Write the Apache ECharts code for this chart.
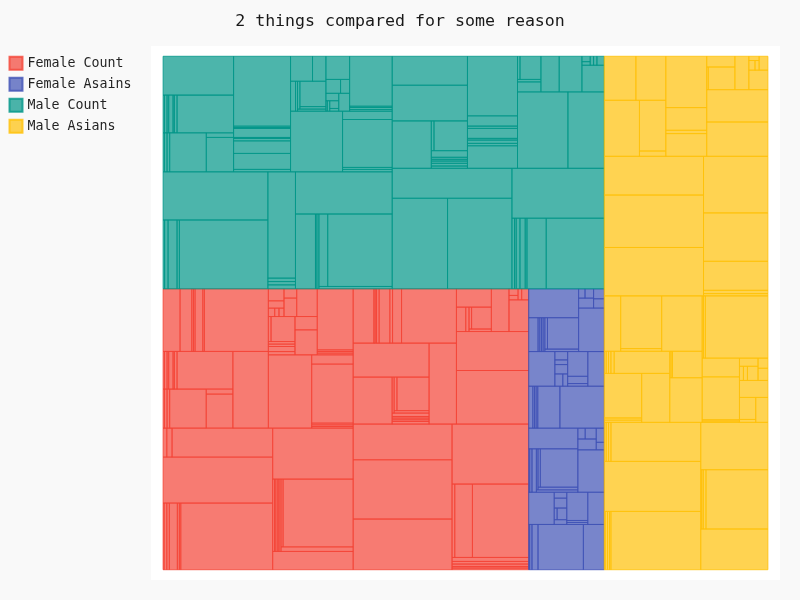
<!DOCTYPE html>
<html>
<head>
<meta charset="utf-8">
<script src="https://cdn.jsdelivr.net/npm/echarts@6/dist/echarts.min.js"></script>
<style>
html, body { margin: 0; padding: 0; background: #f9f9f9; }
#chart { width: 800px; height: 600px; }
</style>
</head>
<body>
<div id="chart"></div>
<script>
// ---- data (values in series order, as drawn by the binary treemap) ----
const chartTitle = '2 things compared for some reason';
const seriesNames = ['Female Count', 'Female Asains', 'Male Count', 'Male Asians'];

const femaleCount = [
  67, 180, 173, 534, 133, 93, 6136, 5046, 107, 154, 2920,
  1475, 137, 92, 141, 92, 141, 332, 141, 4758, 4111,
  51, 105, 101, 1431, 908, 134, 49, 102, 60, 166, 49, 102, 2106, 2727, 1066, 733, 105, 102, 483, 100, 4013,
  3181, 67, 71, 71, 2454, 387, 88, 134, 64, 69, 67, 600, 558, 297, 53, 36, 42, 115, 188, 234, 118, 571, 60, 60, 60, 2196,
  5019, 5871, 3534,
  130, 123, 184, 199, 307, 198, 1299, 4132, 4602,
  1833, 96, 63, 63, 59, 126, 72, 86, 94, 1080, 2584, 2219, 1124, 73, 74, 141, 581, 147, 489, 2987,
  3875, 2820, 227, 80, 56, 56, 435, 641, 752, 624, 40, 60, 40, 77
];

const femaleAsains = [
  46, 105, 274, 2057, 946, 825, 60, 34, 112, 124, 74, 42, 42, 594, 531,
  46, 100, 191, 100, 67, 106, 90, 1442, 1016, 1122, 200, 80, 120, 60, 113,
  176, 70, 70, 66, 931, 1863, 910, 98, 60, 120, 60, 107, 54, 146, 500, 571,
  320, 58, 58, 55, 58, 83, 83, 979, 1445, 1115, 150, 60, 80, 100, 106
];

const maleCount = [
  104, 240, 620, 160, 6100, 5057,
  110, 91, 94, 2942,
  1500, 105, 150, 172, 639, 4686, 4090,
  51, 105, 101, 1431, 939, 126, 49, 102, 60, 166, 49, 102, 2134, 2742,
  137, 912, 718, 137, 57, 513, 57, 74, 3990,
  3156, 119, 99, 2386, 412, 150, 60, 60, 66, 66, 660, 550, 335, 15, 25, 25, 70, 95, 195, 204, 126, 550, 73, 85, 55, 2135,
  5016, 5841, 3591,
  184, 120, 262, 375, 120, 1365, 4101, 4615,
  1856, 83, 98, 83, 62, 73, 240, 80, 998, 2688, 2184,
  1130, 120, 165, 85, 500, 115, 515, 2985,
  3861, 2781, 234, 58, 58, 485, 653, 810, 595, 30, 45, 30, 30, 66
];

const maleAsians = [
  58, 134, 117, 82, 5247, 4835, 78, 90, 94, 3510, 2739, 59, 95, 160, 3677, 3183,
  83, 83, 1670, 1378, 44, 51, 53, 73, 1232, 1452, 35, 36, 789, 913, 112, 2163, 2250,
  50, 50, 1600, 698, 48, 358, 305, 484, 56, 57, 150, 152, 120, 100, 78, 120, 3900,
  4814, 5216, 3850, 147, 210, 1873, 3121, 3650,
  1977, 140, 1338, 1395, 1320, 931, 135, 931, 2103, 2103, 1986, 36, 603, 303, 466, 372, 60, 40, 44, 122
];

const seriesColors = [[244, 67, 54], [63, 81, 181], [0, 150, 136], [255, 193, 7]];
const rgba = (c, a) => 'rgba(' + c[0] + ',' + c[1] + ',' + c[2] + ',' + a + ')';

// ---- binary-split treemap layout in data space (y grows upward) ----
const allValues = [femaleCount, femaleAsains, maleCount, maleAsians];
const groups = allValues.map((vals, s) => ({ s: s, vals: vals, sum: vals.reduce((a, b) => a + b, 0) }));
const total = groups.reduce((a, g) => a + g.sum, 0);
const plotW = 629, plotH = 534;
const W = Math.sqrt(total * plotW / plotH);
const H = total / W;

function split(items, tot, x, y, w, h, valOf, emit) {
  if (tot === 0) return;
  if (items.length === 1) { emit(items[0], x, y, w, h); return; }
  const mid = tot / 2;
  let pivot = 1, run = 0;
  for (let i = 0; i < items.length; i++) {
    if (run >= mid) { pivot = i; break; }
    run += valOf(items[i]);
  }
  const a = items.slice(0, pivot), b = items.slice(pivot);
  const sa = a.reduce((t, e) => t + valOf(e), 0);
  const sb = b.reduce((t, e) => t + valOf(e), 0);
  const pct = sa / tot;
  if (h > w) {
    const yp = pct * h;
    split(a, sa, x, y, w, yp, valOf, emit);
    split(b, sb, x, y + yp, w, h - yp, valOf, emit);
  } else {
    const xp = pct * w;
    split(a, sa, x, y, xp, h, valOf, emit);
    split(b, sb, x + xp, y, w - xp, h, valOf, emit);
  }
}

const cells = [[], [], [], []];
split(groups, total, 0, 0, W, H, g => g.sum, (g, x, y, w, h) => {
  const items = g.vals.map((v, i) => ({ v: v, i: i }));
  split(items, g.sum, x, y, w, h, e => e.v, (e, x2, y2, w2, h2) => {
    cells[g.s].push([x2, y2, w2, h2, e.v]);
  });
});

const chart = echarts.init(document.getElementById('chart'), null, { renderer: 'canvas' });
const FONT = 'DejaVu Sans Mono';

chart.setOption({
  backgroundColor: '#f9f9f9',
  animation: false,
  title: {
    text: chartTitle,
    left: 'center',
    top: 8,
    textStyle: { fontFamily: FONT, fontSize: 16.6, fontWeight: 'normal', color: 'rgba(0,0,0,0.9)' }
  },
  legend: {
    orient: 'vertical',
    left: 8.5,
    top: 55.8,
    padding: 0,
    itemWidth: 13,
    itemHeight: 13,
    itemGap: 6,
    icon: 'rect',
    selectedMode: false,
    data: seriesNames,
    textStyle: { fontFamily: FONT, fontSize: 13.3, color: 'rgba(0,0,0,0.87)' }
  },
  grid: {
    left: 151, top: 46, width: plotW, height: plotH,
    show: true, backgroundColor: '#ffffff', borderWidth: 0
  },
  xAxis: { type: 'value', min: -0.02 * W, max: 1.02 * W, show: false },
  yAxis: { type: 'value', min: -0.02 * H, max: 1.02 * H, show: false },
  series: cells.map((data, s) => ({
    type: 'custom',
    name: seriesNames[s],
    coordinateSystem: 'cartesian2d',
    silent: true,
    clip: false,
    itemStyle: { color: rgba(seriesColors[s], 0.7), borderColor: rgba(seriesColors[s], 0.8), borderWidth: 1 },
    encode: { x: [0], y: [1] },
    data: data,
    renderItem: function (params, api) {
      const x = api.value(0), y = api.value(1), w = api.value(2), h = api.value(3);
      const p0 = api.coord([x, y + h]);
      const p1 = api.coord([x + w, y]);
      return {
        type: 'rect',
        shape: { x: p0[0], y: p0[1], width: p1[0] - p0[0], height: p1[1] - p0[1] },
        style: { fill: rgba(seriesColors[s], 0.7), stroke: rgba(seriesColors[s], 0.8), lineWidth: 1 }
      };
    }
  }))
});
</script>
</body>
</html>
